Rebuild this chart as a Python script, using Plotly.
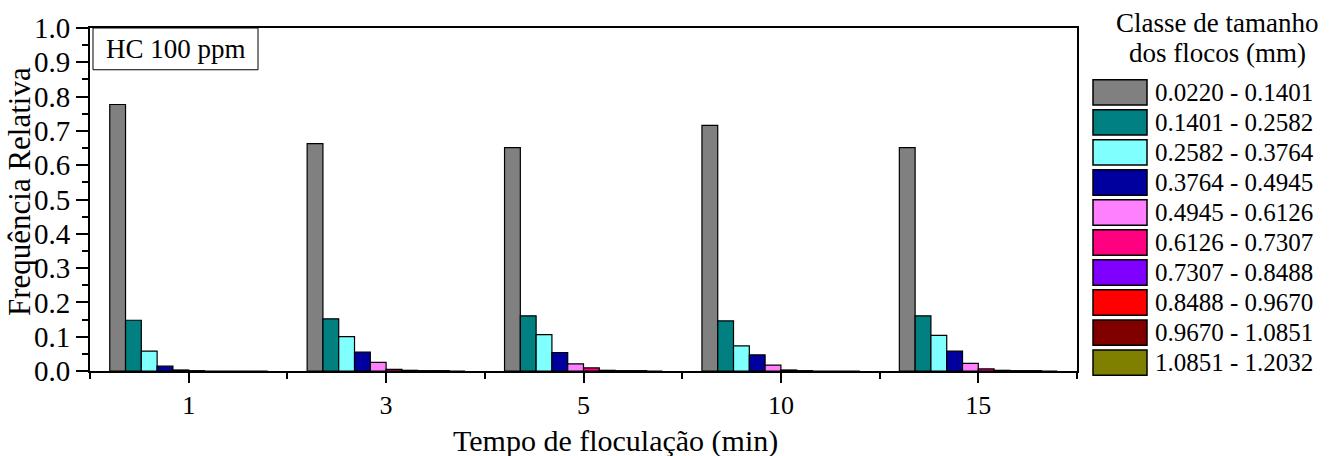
import plotly.graph_objects as go

# Flocculation times (min) and floc size classes (mm)
tempos = ["1", "3", "5", "10", "15"]
classes = [
    "0.0220 - 0.1401", "0.1401 - 0.2582", "0.2582 - 0.3764", "0.3764 - 0.4945",
    "0.4945 - 0.6126", "0.6126 - 0.7307", "0.7307 - 0.8488", "0.8488 - 0.9670",
    "0.9670 - 1.0851", "1.0851 - 1.2032",
]
cores = ["#808080", "#008080", "#80FFFF", "#00009F", "#FF80FF",
         "#FF0080", "#8000FF", "#FF0000", "#800000", "#808000"]

# Relative frequency of each size class at each flocculation time
freq_c1 = [0.777, 0.663, 0.651, 0.716, 0.651]
freq_c2 = [0.148, 0.152, 0.161, 0.146, 0.161]
freq_c3 = [0.058, 0.100, 0.106, 0.073, 0.104]
freq_c4 = [0.014, 0.055, 0.054, 0.047, 0.058]
freq_c5 = [0.003, 0.025, 0.021, 0.017, 0.022]
freq_c6 = [0.001, 0.005, 0.009, 0.003, 0.006]
freq_c7 = [0.000, 0.002, 0.002, 0.001, 0.002]
freq_c8 = [0.000, 0.001, 0.001, 0.000, 0.001]
freq_c9 = [0.000, 0.001, 0.001, 0.000, 0.001]
freq_c10 = [0.000, 0.000, 0.000, 0.000, 0.000]
frequencias = [freq_c1, freq_c2, freq_c3, freq_c4, freq_c5,
               freq_c6, freq_c7, freq_c8, freq_c9, freq_c10]

FONT = "Liberation Serif"
W, H = 1333, 456
ML, MR, MT, MB = 90, 256, 26, 85
PW, PH = W - ML - MR, H - MT - MB


def px_x(px):
    return (px - ML) / PW


def px_y(py):
    return (H - MB - py) / PH


posicoes = list(range(len(tempos)))

fig = go.Figure()
for nome, cor, vals in zip(classes, cores, frequencias):
    fig.add_trace(go.Bar(
        x=posicoes, y=vals, name=nome, showlegend=False,
        marker=dict(color=cor, line=dict(color="black", width=1.2)),
    ))

shapes = []
annotations = []

# Legend drawn as swatches beside the plot
annotations.append(dict(text="Classe de tamanho", x=px_x(1217), y=px_y(21),
                        xref="paper", yref="paper", showarrow=False,
                        xanchor="center", yanchor="middle",
                        font=dict(family=FONT, size=27, color="black")))
annotations.append(dict(text="dos flocos (mm)", x=px_x(1217), y=px_y(51),
                        xref="paper", yref="paper", showarrow=False,
                        xanchor="center", yanchor="middle",
                        font=dict(family=FONT, size=27, color="black")))
for i, (nome, cor) in enumerate(zip(classes, cores)):
    top = 78 + 30.2 * i
    shapes.append(dict(type="rect", xref="paper", yref="paper",
                       x0=px_x(1093), x1=px_x(1147), y0=px_y(top + 25.5), y1=px_y(top),
                       fillcolor=cor, line=dict(color="black", width=1.5)))
    annotations.append(dict(text=nome, x=px_x(1153), y=px_y(top + 13),
                            xref="paper", yref="paper", showarrow=False,
                            xanchor="left", yanchor="middle",
                            font=dict(family=FONT, size=25, color="black")))

# Label box in the upper-left corner
shapes.append(dict(type="rect", xref="paper", yref="paper",
                   x0=px_x(93), x1=px_x(258), y0=px_y(68), y1=px_y(26),
                   fillcolor="white", line=dict(color="black", width=1)))
annotations.append(dict(text="HC 100 ppm", x=px_x(175.5), y=px_y(47),
                        xref="paper", yref="paper", showarrow=False,
                        xanchor="center", yanchor="middle",
                        font=dict(family=FONT, size=27, color="black")))

# Axis titles
annotations.append(dict(text="Tempo de floculação (min)", x=px_x(615), y=px_y(441),
                        xref="paper", yref="paper", showarrow=False,
                        xanchor="center", yanchor="middle",
                        font=dict(family=FONT, size=30, color="black")))
annotations.append(dict(text="Frequência Relativa", x=px_x(19), y=px_y(191),
                        xref="paper", yref="paper", showarrow=False, textangle=-90,
                        xanchor="center", yanchor="middle",
                        font=dict(family=FONT, size=31, color="black")))

fig.update_layout(
    width=W, height=H,
    margin=dict(l=ML, r=MR, t=MT, b=MB),
    paper_bgcolor="white", plot_bgcolor="white",
    barmode="group", bargap=0.2, bargroupgap=0,
    font=dict(family=FONT, color="black"),
    shapes=shapes, annotations=annotations,
)
fig.update_xaxes(
    range=[-0.5, 4.5], tickvals=posicoes, ticktext=tempos,
    ticks="outside", ticklen=10, tickwidth=2, tickcolor="black",
    minor=dict(tick0=0.5, dtick=1, ticks="outside", ticklen=6, tickwidth=2, tickcolor="black"),
    showline=True, linewidth=2, linecolor="black", mirror=True,
    showgrid=False, zeroline=False,
    tickfont=dict(family=FONT, size=26, color="black"),
)
fig.update_yaxes(
    range=[0, 1.0], dtick=0.1, tick0=0, tickformat=".1f",
    ticks="outside", ticklen=12, tickwidth=2, tickcolor="black",
    minor=dict(dtick=0.05, ticks="outside", ticklen=6, tickwidth=2, tickcolor="black"),
    showline=True, linewidth=2, linecolor="black", mirror=True,
    showgrid=False, zeroline=False,
    tickfont=dict(family=FONT, size=29, color="black"),
)

fig.write_html("out.html")
